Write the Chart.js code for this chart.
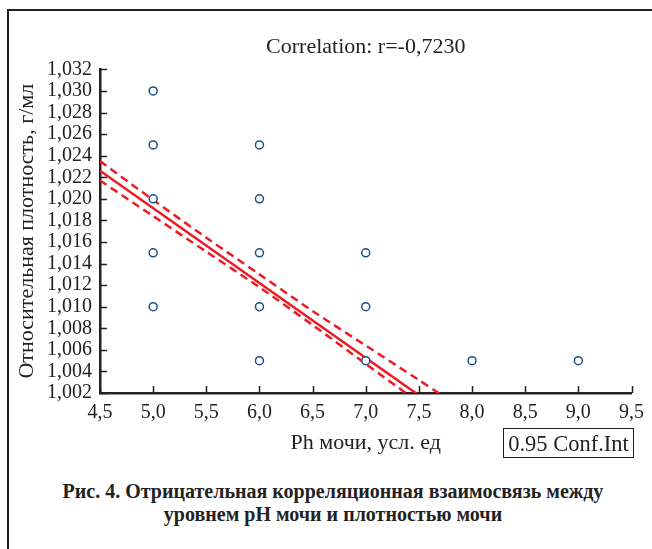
<!DOCTYPE html>
<html>
<head>
<meta charset="utf-8">
<script src="https://cdn.jsdelivr.net/npm/chart.js@4"></script>
<style>
  body { margin: 0; background: #fff; }
  #wrap { position: relative; width: 652px; height: 549px; overflow: hidden; }
  #frame { position: absolute; left: 7px; top: 9px; right: -10px; bottom: -10px;
           border-left: 2px solid #222; border-top: 2px solid #222; }
  #chartBox { position: absolute; left: 0; top: 0; width: 652px; height: 470px; }
  #legendBox { position: absolute; left: 503px; top: 428px; width: 129px; height: 28px;
               border: 1px solid #222; font: 22.5px "Liberation Serif", serif; color: #222;
               text-align: center; line-height: 29px; }
  #caption { position: absolute; left: 0; top: 480px; width: 666px; text-align: center;
             font: bold 20px "Liberation Serif", serif; color: #222; line-height: 23px; }
</style>
</head>
<body>
<div id="wrap">
  <div id="frame"></div>
  <div id="chartBox"><canvas id="corrChart" width="652" height="470"></canvas></div>
  <div id="legendBox">0.95 Conf.Int</div>
  <div id="caption">Рис. 4. Отрицательная корреляционная взаимосвязь между<br>уровнем pH мочи и плотностью мочи</div>
</div>
<script>
// observed points: pH vs density
const phValues = [5, 5, 5, 5, 5, 6, 6, 6, 6, 6, 7, 7, 7, 8, 9]
const densityValues = [1.030, 1.025, 1.020, 1.015, 1.010, 1.025, 1.020, 1.015, 1.010, 1.005, 1.015, 1.010, 1.005, 1.005, 1.005]

// regression line and 0.95 band
const fitX = [4.5, 7.7]
const fitY = [1.0226, 1.0004]
const bandX = [4.5, 5.0, 5.5, 6.0, 6.5, 7.0, 7.5, 7.7]
const bandUpper = [1.0235, 1.0199, 1.0164, 1.0130, 1.0096, 1.0064, 1.0032, 1.0019]
const bandLower = [1.0217, 1.0184, 1.0151, 1.0118, 1.0083, 1.0047, 1.0011, 0.9996]

const titleText = 'Correlation: r=-0,7230'
const xTitle = 'Ph мочи, усл. ед'
const yTitle = 'Относительная плотность, г/мл'

const serif = '"Liberation Serif", "Times New Roman", serif'
const red = '#ec1c24'

function toPoints(xs, ys) {
  return xs.map((x, i) => ({ x: x, y: ys[i] }))
}

// inward tick marks like the original plot
const innerTicks = {
  id: 'innerTicks',
  afterDraw(chart) {
    const ctx = chart.ctx
    const area = chart.chartArea
    const xs = chart.scales.x
    const ys = chart.scales.y
    ctx.save()
    ctx.strokeStyle = '#222'
    ctx.lineWidth = 1.5
    ctx.beginPath()
    xs.ticks.forEach(t => {
      let px = Math.round(xs.getPixelForValue(t.value)) + 0.5
      ctx.moveTo(px, area.bottom)
      ctx.lineTo(px, area.bottom - 7)
    })
    ys.ticks.forEach(t => {
      let py = Math.round(ys.getPixelForValue(t.value)) + 0.5
      ctx.moveTo(area.left, py)
      ctx.lineTo(area.left + 7, py)
    })
    ctx.stroke()
    ctx.restore()
  }
}

var ctx = document.getElementById('corrChart')
new Chart(ctx, {
  type: 'scatter',
  data: {
    datasets: [
      {
        data: toPoints(phValues, densityValues),
        pointRadius: 4,
        pointBorderWidth: 1.5,
        pointBorderColor: '#1b4f8e',
        pointBackgroundColor: '#fff',
        order: 0
      },
      {
        data: toPoints(fitX, fitY),
        showLine: true,
        borderColor: red,
        borderWidth: 2.5,
        pointRadius: 0,
        order: 1
      },
      {
        data: toPoints(bandX, bandUpper),
        showLine: true,
        borderColor: red,
        borderWidth: 2.5,
        borderDash: [8, 5],
        tension: 0.3,
        pointRadius: 0,
        order: 1
      },
      {
        data: toPoints(bandX, bandLower),
        showLine: true,
        borderColor: red,
        borderWidth: 2.5,
        borderDash: [8, 5],
        tension: 0.3,
        pointRadius: 0,
        order: 1
      }
    ]
  },
  options: {
    responsive: false,
    animation: false,
    layout: { padding: { left: 8, right: 18, top: 0, bottom: 0 } },
    plugins: {
      legend: { display: false },
      tooltip: { enabled: false },
      title: {
        display: true,
        fullSize: false,
        text: titleText,
        color: '#222',
        font: { family: serif, size: 22, weight: 'normal' },
        padding: { top: 34, bottom: 9 }
      }
    },
    scales: {
      x: {
        type: 'linear',
        min: 4.5,
        max: 9.5,
        afterFit: s => { s.height = 77 },
        grid: { display: true, drawOnChartArea: false, drawTicks: false },
        border: { display: true, color: '#222', width: 2.5 },
        ticks: {
          stepSize: 0.5,
          autoSkip: false,
          padding: 8,
          color: '#222',
          font: { family: serif, size: 20 },
          callback: v => v.toFixed(1).replace('.', ',')
        },
        title: {
          display: true,
          text: xTitle,
          color: '#222',
          font: { family: serif, size: 22 },
          padding: { top: 0, bottom: 14 }
        }
      },
      y: {
        type: 'linear',
        min: 1.002,
        max: 1.032,
        afterFit: s => { s.width = 92 },
        grid: { display: true, drawOnChartArea: false, drawTicks: false },
        border: { display: true, color: '#222', width: 2.5 },
        ticks: {
          stepSize: 0.002,
          autoSkip: false,
          padding: 8,
          color: '#222',
          font: { family: serif, size: 20 },
          callback: v => v.toFixed(3).replace('.', ',')
        },
        title: {
          display: true,
          text: yTitle,
          color: '#222',
          font: { family: serif, size: 22 },
          padding: { top: 6, bottom: 0 }
        }
      }
    }
  },
  plugins: [innerTicks]
})
</script>
</body>
</html>
